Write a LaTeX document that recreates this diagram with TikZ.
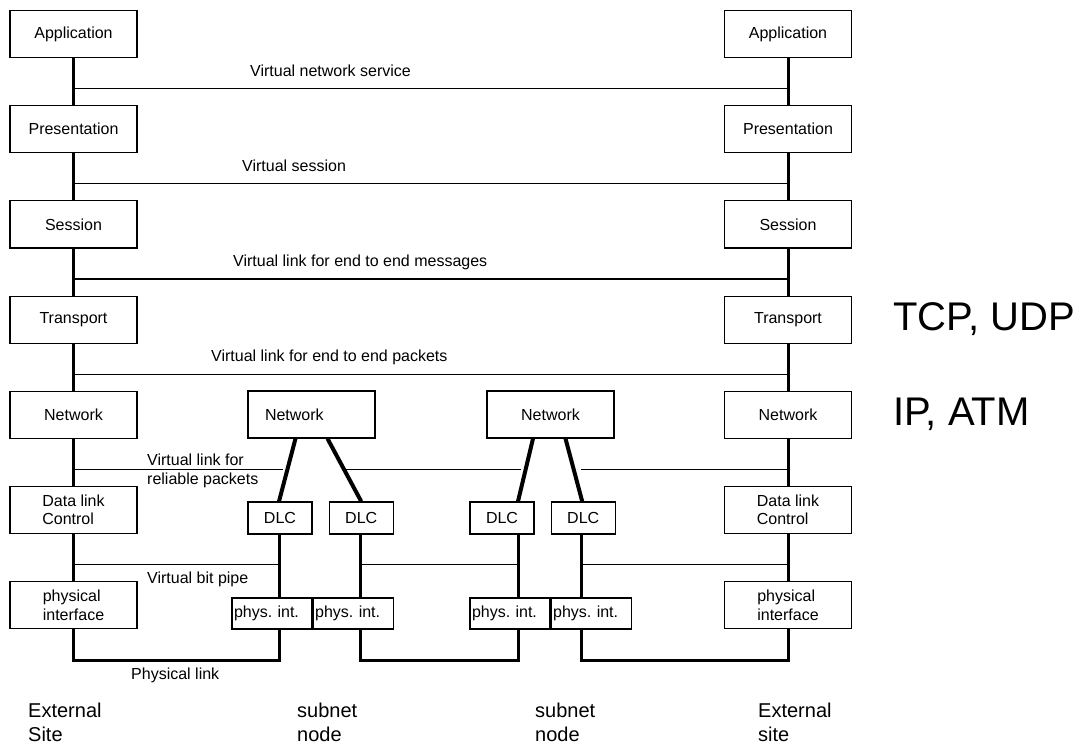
\documentclass[tikz,border=0pt]{standalone}
\usepackage{fontspec}
\setmainfont{Liberation Sans}
\usetikzlibrary{positioning}
\tikzset{
  layer/.style={draw, line width=1.2pt, minimum width=127pt, minimum height=47pt, inner sep=1pt, align=center, font=\fontsize{16}{18.5}\selectfont},
  sublayer/.style={layer, minimum width=64pt, minimum height=32pt},
  physbox/.style={layer, minimum width=80pt, minimum height=31pt, text width=76pt, inner xsep=2pt, align=left},
  trunk/.style={line width=3pt},
  slant/.style={line width=4pt},
  vlink/.style={line width=1.3pt},
  vtext/.style={anchor=west, inner sep=0pt, align=left, font=\fontsize{16}{18.5}\selectfont},
  sitetext/.style={anchor=north west, inner sep=0pt, align=left, font=\fontsize{20}{24}\selectfont},
  proto/.style={anchor=west, inner sep=0pt, font=\fontsize{40}{46}\selectfont}
}

\begin{document}
\frenchspacing
\begin{tikzpicture}[x=1pt, y=-1pt, node distance=47pt]
\useasboundingbox (0,0) rectangle (1089,746);
% external sites
\node[layer] (appL) at (73.5,34) {Application};
\node[layer, below=of appL] (preL) {Presentation};
\node[layer, below=of preL] (sesL) {Session};
\node[layer, below=of sesL] (traL) {Transport};
\node[layer, below=of traL] (netL) {Network};
\node[layer, below=of netL, align=left] (dlcL) {Data link\\Control};
\node[layer, below=of dlcL, align=left] (phyL) {physical\\interface};
\node[layer] (appR) at (788,34) {Application};
\node[layer, below=of appR] (preR) {Presentation};
\node[layer, below=of preR] (sesR) {Session};
\node[layer, below=of sesR] (traR) {Transport};
\node[layer, below=of traR] (netR) {Network};
\node[layer, below=of netR, align=left] (dlcR) {Data link\\Control};
\node[layer, below=of dlcR, align=left] (phyR) {physical\\interface};
% subnet nodes
\node[layer, text width=93pt, inner xsep=17pt, align=left] (netA) at (311.5,414.5) {Network};
\node[sublayer] (dlcA1) at (280,518) {DLC};
\node[sublayer, right=16pt of dlcA1] (dlcA2) {DLC};
\node[physbox] (phyA1) at (272,613.5) {phys. int.};
\node[physbox, right=0pt of phyA1] (phyA2) {phys. int.};
\node[layer] (netB) at (550.5,414.5) {Network};
\node[sublayer] (dlcB1) at (502,518) {DLC};
\node[sublayer, right=16pt of dlcB1] (dlcB2) {DLC};
\node[physbox] (phyB1) at (510,613.5) {phys. int.};
\node[physbox, right=0pt of phyB1] (phyB2) {phys. int.};
\coordinate (xA1) at (279,0);
\coordinate (xA2) at (360,0);
\coordinate (xB1) at (518,0);
\coordinate (xB2) at (581,0);
\coordinate (bot) at (0,660);
% layer stacks
\foreach \s in {L,R} {
  \foreach \a/\b [count=\i] in {app/pre, pre/ses, ses/tra, tra/net, net/dlc, dlc/phy}
    \draw[trunk] (\a\s) -- coordinate[pos=.65] (k\s\i) (\b\s);
}
\draw[slant] ([xshift=-16pt]netA.south) -- coordinate (mA1) ([xshift=-1pt]dlcA1.north);
\draw[slant] ([xshift=16pt]netA.south) -- coordinate (mA2) (dlcA2.north);
\draw[slant] ([xshift=-17.5pt]netB.south) -- coordinate (mB1) ([xshift=16pt]dlcB1.north);
\draw[slant] ([xshift=15pt]netB.south) -- coordinate (mB2) ([xshift=-1pt]dlcB2.north);
\draw[trunk] (dlcA1.south -| xA1) -- (phyA1.north -| xA1);
\draw[trunk] (dlcA2.south -| xA2) -- (phyA2.north -| xA2);
\draw[trunk] (dlcB1.south -| xB1) -- (phyB1.north -| xB1);
\draw[trunk] (dlcB2.south -| xB2) -- (phyB2.north -| xB2);
% virtual links
\foreach \i in {1,...,4}
  \draw[vlink] (kL\i) -- (kR\i);
\draw[vlink, shorten >=4pt] (kL5) -- (kL5 -| mA1);
\draw[vlink, shorten >=5pt] (kL5 -| mA2) -- (kL5 -| mB1);
\draw[vlink, shorten <=7pt] (kR5 -| mB2) -- (kR5);
\draw[vlink] (kL6) -- (kL6 -| xA1);
\draw[vlink] (kL6 -| xA2) -- (kL6 -| xB1);
\draw[vlink] (kR6 -| xB2) -- (kR6);
% physical links
\draw[trunk] (phyL.south) -- (phyL.south |- bot) -- (bot -| xA1) -- (phyA1.south -| xA1);
\draw[trunk] (phyA2.south -| xA2) -- (bot -| xA2) -- (bot -| xB1) -- (phyB1.south -| xB1);
\draw[trunk] (phyB2.south -| xB2) -- (bot -| xB2) -- (bot -| phyR) -- (phyR.south);
% labels
\node[vtext] (lblNet) at (250,71) {Virtual network service};
\node[vtext] (lblSes) at (242,166) {Virtual session};
\node[vtext] (lblMsg) at (233,262) {Virtual link for end to end messages};
\node[vtext] (lblPkt) at (211,357) {Virtual link for end to end packets};
\node[vtext] (lblRel) at (147,471) {Virtual link for\\reliable packets};
\node[vtext] (lblBit) at (147,579) {Virtual bit pipe};
\node[vtext] (lblPhy) at (131,675) {Physical link};
\node[sitetext] (siteL) at (28,703) {External\\Site};
\node[sitetext] (siteA) at (297,703) {subnet\\node};
\node[sitetext] (siteB) at (535,703) {subnet\\node};
\node[sitetext] (siteR) at (758,703) {External\\site};
\node[proto] (tcp) at (893,319) {TCP, UDP};
\node[proto] (ip) at (893,414) {IP, ATM};
\end{tikzpicture}
\end{document}
